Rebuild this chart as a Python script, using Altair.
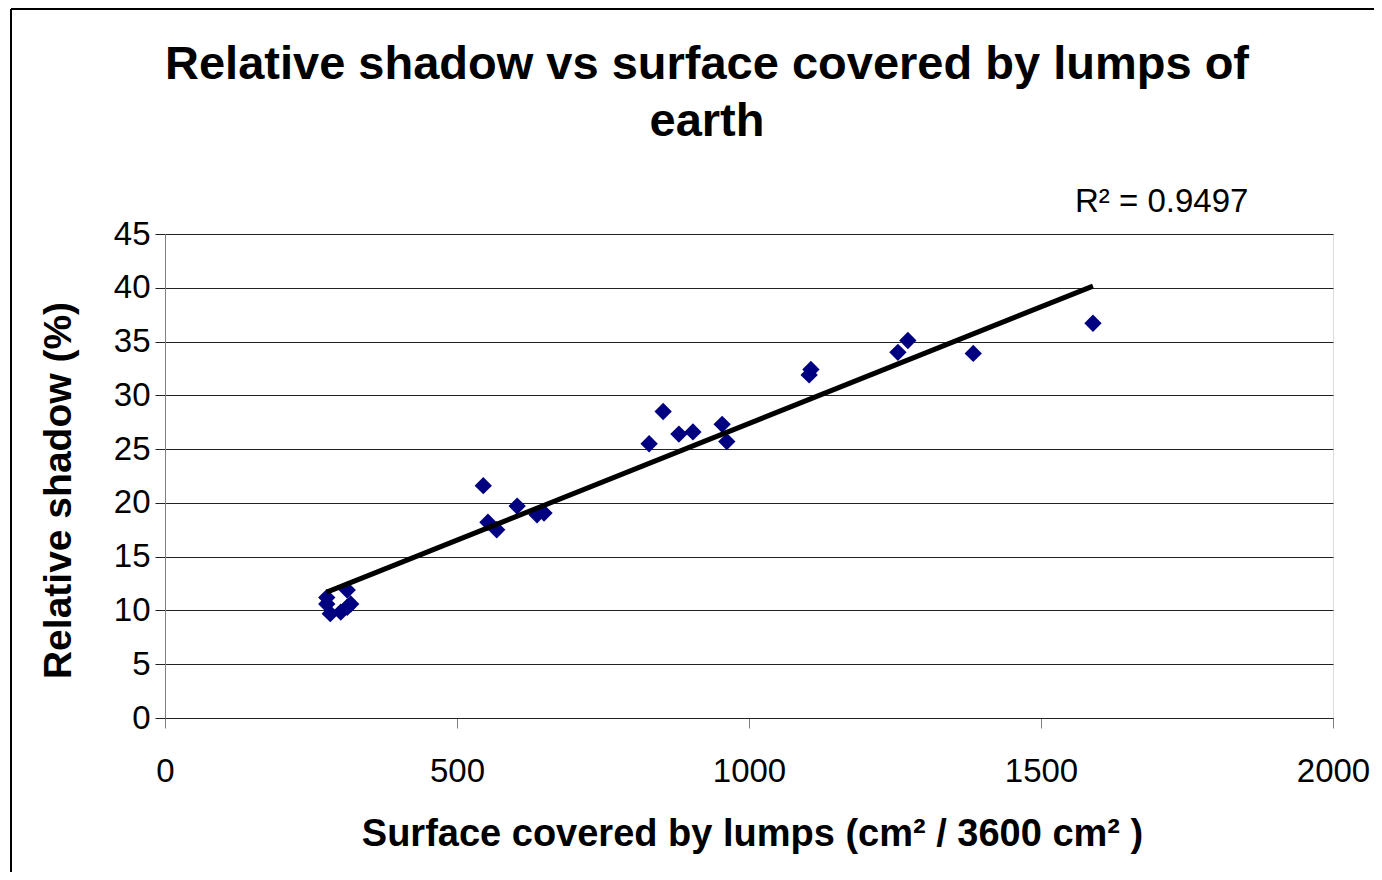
import altair as alt
import pandas as pd

# Data
surface = [277, 277, 283, 301, 312, 312, 318, 545, 553, 568, 603, 637, 649,
           829, 853, 880, 904, 954, 962, 1103, 1106, 1255, 1272, 1384, 1589]
shadow = [11.2, 10.6, 9.7, 9.85, 11.9, 10.3, 10.6, 21.6, 18.2, 17.5, 19.7, 18.9, 19.05,
          25.5, 28.5, 26.4, 26.6, 27.3, 25.7, 31.9, 32.4, 34.0, 35.1, 33.9, 36.7]
trend_x = [277, 1589]
trend_y = [11.7, 40.16]
r2_label = "R² = 0.9497"
x_ticks = [0, 500, 1000, 1500, 2000]
y_ticks = [0, 5, 10, 15, 20, 25, 30, 35, 40, 45]

pts = pd.DataFrame({"x": surface, "y": shadow})
trend = pd.DataFrame({"x": trend_x, "y": trend_y})

FONT = "Liberation Sans"
W, H = 1168, 484

xscale = alt.Scale(domain=[0, 2000], nice=False, zero=True)
yscale = alt.Scale(domain=[0, 45], nice=False, zero=True)

xaxis = alt.Axis(
    values=x_ticks, format="d", grid=False, title="Surface covered by lumps (cm² / 3600 cm² )",
    titleFont=FONT, titleFontSize=38, titleFontWeight="bold", titleColor="black",
    titleX=587, titleY=127, titleAlign="center", titleBaseline="alphabetic",
    labelFont=FONT, labelFontSize=33, labelColor="black", labelPadding=27,
    labelFlush=False, tickSize=10, tickColor="#808080", domainColor="#222222",
)
yaxis = alt.Axis(
    values=y_ticks, format="d", grid=True, gridColor="#222222", gridWidth=1, title="Relative shadow (%)",
    titleFont=FONT, titleFontSize=39, titleFontWeight="bold", titleColor="black",
    titleX=-95, titleY=256, titleAngle=270, titleAlign="center", titleBaseline="alphabetic",
    labelFont=FONT, labelFontSize=33, labelColor="black", labelPadding=5,
    tickSize=10, tickColor="#222222", domainColor="#808080",
)

one = alt.Data(values=[{"a": 1}])
frame_left = alt.Chart(one).mark_rule(color="black", strokeWidth=2).encode(
    x=alt.value(-154), y=alt.value(-225), y2=alt.value(700)
)
frame_top = alt.Chart(one).mark_rule(color="black", strokeWidth=2).encode(
    x=alt.value(-154), x2=alt.value(1300), y=alt.value(-225)
)

points = alt.Chart(pts).mark_point(
    shape="diamond", filled=True, color="#000080", size=300, opacity=1
).encode(
    x=alt.X("x:Q", scale=xscale, axis=xaxis),
    y=alt.Y("y:Q", scale=yscale, axis=yaxis),
)

line = alt.Chart(trend).mark_line(color="black", strokeWidth=5).encode(
    x=alt.X("x:Q", scale=xscale),
    y=alt.Y("y:Q", scale=yscale),
)

r2 = alt.Chart(alt.Data(values=[{"t": r2_label}])).mark_text(
    font=FONT, fontSize=33, color="black", align="left", baseline="alphabetic"
).encode(
    x=alt.value(910), y=alt.value(-22), text="t:N"
)

chart = alt.layer(frame_left, frame_top, points, line, r2).properties(
    width=W, height=H,
    title=alt.TitleParams(
        text=["Relative shadow vs surface covered by lumps of", "earth"],
        font=FONT, fontSize=47, fontWeight="bold", color="black",
        anchor="middle", lineHeight=57, dx=-42, offset=-138,
    ),
    autosize=alt.AutoSizeParams(type="none"),
    padding={"left": 157, "top": 226, "right": 41, "bottom": 154},
).configure_view(stroke=None).configure(background="white")

chart.save("out.html", embed_options={"renderer": "svg", "actions": False})
